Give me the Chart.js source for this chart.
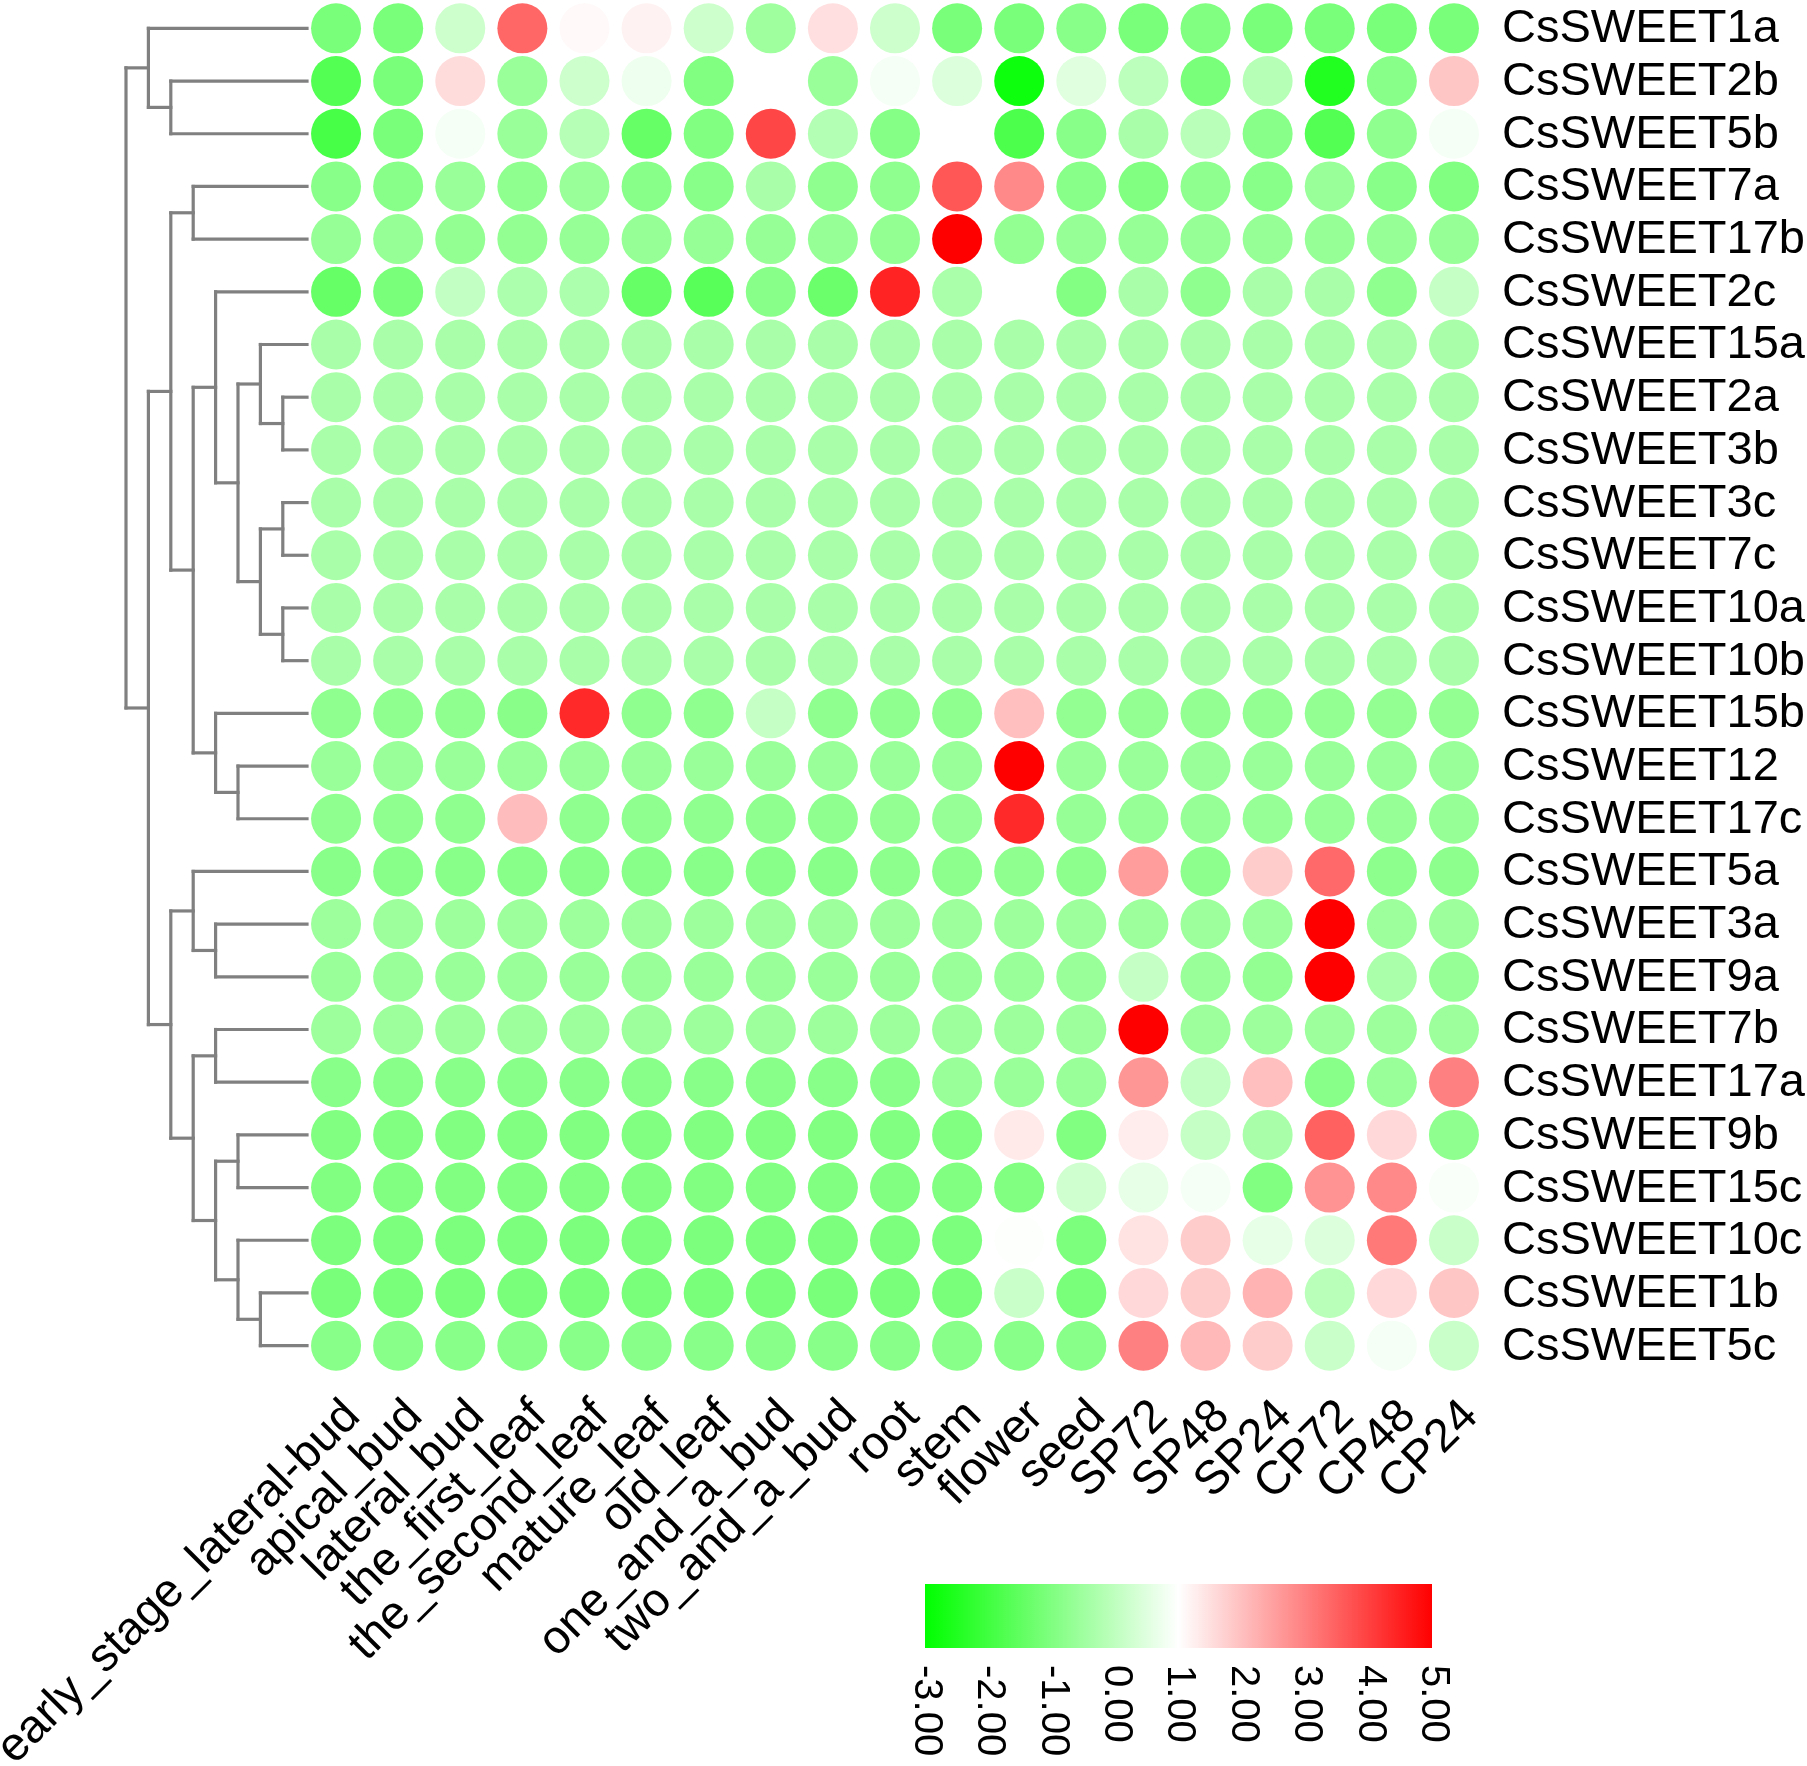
<!DOCTYPE html>
<html>
<head>
<meta charset="utf-8">
<script src="https://cdn.jsdelivr.net/npm/chart.js@4.4.1/dist/chart.umd.min.js"></script>
<style>
  html, body { margin: 0; padding: 0; background: #fff; }
  #heat { display: block; }
</style>
</head>
<body>
<canvas id="heat" width="1807" height="1766"></canvas>
<script>
// columns (tissues / treatments)
const tissues = ['early_stage_lateral-bud', 'apical_bud', 'lateral_bud', 'the_first_leaf', 'the_second_leaf',
    'mature_leaf', 'old_leaf', 'one_and_a_bud', 'two_and_a_bud', 'root', 'stem', 'flower', 'seed',
    'SP72', 'SP48', 'SP24', 'CP72', 'CP48', 'CP24'];

// rows, in dendrogram order
const genes = ['CsSWEET1a', 'CsSWEET2b', 'CsSWEET5b', 'CsSWEET7a', 'CsSWEET17b', 'CsSWEET2c', 'CsSWEET15a',
    'CsSWEET2a', 'CsSWEET3b', 'CsSWEET3c', 'CsSWEET7c', 'CsSWEET10a', 'CsSWEET10b', 'CsSWEET15b', 'CsSWEET12',
    'CsSWEET17c', 'CsSWEET5a', 'CsSWEET3a', 'CsSWEET9a', 'CsSWEET7b', 'CsSWEET17a', 'CsSWEET9b', 'CsSWEET15c',
    'CsSWEET10c', 'CsSWEET1b', 'CsSWEET5c'];

// expression values (log scale), one row per gene, one column per tissue
const expression = [
    [-1.1, -1.1, 0.2, 3.4, 1.1, 1.2, 0.2, -0.5, 1.5, 0.2, -1.1, -1.1, -0.87, -1.1, -1.0, -1.1, -1.1, -1.1, -1.1],
    [-1.7, -1.1, 1.55, -0.6, 0.2, 0.75, -1.0, 1.0, -0.6, 0.85, 0.45, -2.8, 0.5, -0.05, -1.1, -0.15, -2.5, -0.87, 1.9],
    [-1.9, -1.1, 0.85, -0.6, -0.15, -1.4, -1.0, 3.9, -0.2, -0.9, 1.0, -1.8, -0.87, -0.35, -0.1, -0.87, -1.7, -0.75, 0.85],
    [-0.87, -0.87, -0.6, -0.75, -0.6, -0.87, -0.87, -0.35, -0.75, -0.75, 3.65, 2.85, -0.87, -1.0, -0.75, -0.87, -0.6, -0.87, -1.0],
    [-0.65, -0.65, -0.7, -0.7, -0.65, -0.65, -0.65, -0.65, -0.65, -0.7, 5.0, -0.7, -0.65, -0.65, -0.65, -0.65, -0.65, -0.65, -0.65],
    [-1.4, -1.1, 0.05, -0.3, -0.3, -1.4, -1.6, -0.87, -1.3, 4.45, -0.33, 1.0, -0.95, -0.35, -0.75, -0.35, -0.35, -0.75, 0.1],
    [-0.35, -0.35, -0.35, -0.35, -0.35, -0.35, -0.35, -0.35, -0.35, -0.35, -0.35, -0.35, -0.35, -0.35, -0.35, -0.35, -0.35, -0.35, -0.35],
    [-0.35, -0.35, -0.35, -0.35, -0.35, -0.35, -0.35, -0.35, -0.35, -0.35, -0.35, -0.35, -0.35, -0.35, -0.35, -0.35, -0.35, -0.35, -0.35],
    [-0.35, -0.35, -0.35, -0.35, -0.35, -0.35, -0.35, -0.35, -0.35, -0.35, -0.35, -0.35, -0.35, -0.35, -0.35, -0.35, -0.35, -0.35, -0.35],
    [-0.35, -0.35, -0.35, -0.35, -0.35, -0.35, -0.35, -0.35, -0.35, -0.35, -0.35, -0.35, -0.35, -0.35, -0.35, -0.35, -0.35, -0.35, -0.35],
    [-0.35, -0.35, -0.35, -0.35, -0.35, -0.35, -0.35, -0.35, -0.35, -0.35, -0.35, -0.35, -0.35, -0.35, -0.35, -0.35, -0.35, -0.35, -0.35],
    [-0.35, -0.35, -0.35, -0.35, -0.35, -0.35, -0.35, -0.35, -0.35, -0.35, -0.35, -0.35, -0.35, -0.35, -0.35, -0.35, -0.35, -0.35, -0.35],
    [-0.35, -0.35, -0.35, -0.35, -0.35, -0.35, -0.35, -0.35, -0.35, -0.35, -0.35, -0.35, -0.35, -0.35, -0.35, -0.35, -0.35, -0.35, -0.35],
    [-0.75, -0.75, -0.75, -0.85, 4.35, -0.75, -0.75, 0.1, -0.75, -0.75, -0.75, 2.0, -0.7, -0.7, -0.7, -0.7, -0.7, -0.7, -0.7],
    [-0.6, -0.6, -0.6, -0.6, -0.6, -0.6, -0.6, -0.6, -0.6, -0.6, -0.6, 5.0, -0.6, -0.6, -0.6, -0.6, -0.6, -0.6, -0.6],
    [-0.75, -0.75, -0.75, 2.05, -0.75, -0.75, -0.75, -0.75, -0.75, -0.7, -0.65, 4.35, -0.65, -0.65, -0.65, -0.65, -0.65, -0.65, -0.65],
    [-0.87, -0.87, -0.87, -0.87, -0.87, -0.87, -0.87, -0.87, -0.87, -0.8, -0.8, -0.75, -0.8, 2.55, -0.8, 1.8, 3.35, -0.8, -0.8],
    [-0.55, -0.55, -0.55, -0.55, -0.55, -0.55, -0.55, -0.55, -0.55, -0.55, -0.55, -0.55, -0.55, -0.55, -0.55, -0.55, 5.0, -0.55, -0.55],
    [-0.6, -0.6, -0.6, -0.6, -0.6, -0.6, -0.6, -0.6, -0.6, -0.6, -0.6, -0.6, -0.6, 0.1, -0.6, -0.7, 5.0, -0.33, -0.65],
    [-0.55, -0.55, -0.55, -0.55, -0.55, -0.55, -0.55, -0.55, -0.55, -0.55, -0.55, -0.55, -0.55, 5.0, -0.55, -0.55, -0.55, -0.55, -0.55],
    [-0.87, -0.87, -0.87, -0.87, -0.87, -0.87, -0.87, -0.87, -0.87, -0.87, -0.6, -0.6, -0.6, 2.65, 0.05, 2.0, -0.87, -0.6, 3.0],
    [-1.0, -1.0, -1.0, -1.0, -1.0, -1.0, -1.0, -1.0, -1.0, -1.0, -1.0, 1.35, -1.0, 1.3, 0.1, -0.35, 3.5, 1.6, -0.75],
    [-1.0, -1.0, -1.0, -1.0, -1.0, -1.0, -1.0, -1.0, -1.0, -1.0, -1.0, -1.0, 0.25, 0.6, 0.85, -1.0, 2.7, 2.85, 0.9],
    [-1.05, -1.05, -1.05, -1.05, -1.05, -1.05, -1.05, -1.05, -1.05, -1.05, -1.05, 0.97, -1.05, 1.45, 1.8, 0.6, 0.45, 3.1, 0.15],
    [-1.1, -1.1, -1.1, -1.1, -1.1, -1.1, -1.1, -1.1, -1.1, -1.1, -1.1, 0.15, -1.1, 1.6, 1.8, 2.2, -0.1, 1.6, 1.9],
    [-0.87, -0.87, -0.87, -0.87, -0.87, -0.87, -0.87, -0.87, -0.87, -0.87, -0.87, -0.87, -0.87, 3.0, 2.1, 1.8, 0.15, 0.85, 0.15]
];

// colour scale ticks
const scaleTicks = [-3, -2, -1, 0, 1, 2, 3, 4, 5];

// row clustering (nested pairs of gene names)
const dendrogram = [
    ['CsSWEET1a', ['CsSWEET2b', 'CsSWEET5b']],
    [
        [
            ['CsSWEET7a', 'CsSWEET17b'],
            [
                ['CsSWEET2c', [
                    ['CsSWEET15a', ['CsSWEET2a', 'CsSWEET3b']],
                    [['CsSWEET3c', 'CsSWEET7c'], ['CsSWEET10a', 'CsSWEET10b']]
                ]],
                ['CsSWEET15b', ['CsSWEET12', 'CsSWEET17c']]
            ]
        ],
        [
            ['CsSWEET5a', ['CsSWEET3a', 'CsSWEET9a']],
            [
                ['CsSWEET7b', 'CsSWEET17a'],
                [['CsSWEET9b', 'CsSWEET15c'], ['CsSWEET10c', ['CsSWEET1b', 'CsSWEET5c']]]
            ]
        ]
    ]
];

const FONT = '"Liberation Sans", Arial, Helvetica, sans-serif';

// green (-3) -> white (1) -> red (5)
function valueColor(v) {
    if (v <= 1) {
        const t = Math.min(1, (1 - v) / 4);
        const c = Math.round(255 * (1 - t));
        return 'rgb(' + c + ',255,' + c + ')';
    }
    const t = Math.min(1, (v - 1) / 4);
    const c = Math.round(255 * (1 - t));
    return 'rgb(255,' + c + ',' + c + ')';
}

const points = [];
const colors = [];
for (let i = 0; i < genes.length; i++) {
    for (let j = 0; j < tissues.length; j++) {
        points.push({ x: j, y: i });
        colors.push(valueColor(expression[i][j]));
    }
}

// Draws dendrogram, labels and colour key around the dot grid
const decorations = {
    id: 'decorations',
    afterDraw(chart) {
        const ctx = chart.ctx;
        const xs = chart.scales.x;
        const ys = chart.scales.y;
        const area = chart.chartArea;

        // dendrogram
        const x0 = area.left - 179;
        const step = 22.4;
        const leafEnd = area.left + 2;
        ctx.save();
        ctx.strokeStyle = '#808080';
        ctx.lineWidth = 3.2;
        ctx.lineCap = 'square';
        function line(ax, ay, bx, by) {
            ctx.beginPath();
            ctx.moveTo(ax, ay);
            ctx.lineTo(bx, by);
            ctx.stroke();
        }
        function drawNode(node, depth) {
            const x = x0 + depth * step;
            const childY = node.map(child => {
                if (typeof child === 'string') {
                    const y = ys.getPixelForValue(genes.indexOf(child));
                    line(x, y, leafEnd, y);
                    return y;
                }
                const cy = drawNode(child, depth + 1);
                line(x, cy, x0 + (depth + 1) * step, cy);
                return cy;
            });
            line(x, childY[0], x, childY[childY.length - 1]);
            return (childY[0] + childY[childY.length - 1]) / 2;
        }
        drawNode(dendrogram, 0);
        ctx.restore();

        // row labels
        ctx.save();
        ctx.fillStyle = '#000';
        ctx.font = '47px ' + FONT;
        ctx.textAlign = 'left';
        ctx.textBaseline = 'middle';
        genes.forEach((g, i) => {
            ctx.fillText(g, area.right + 17, ys.getPixelForValue(i) + 1);
        });
        ctx.restore();

        // column labels, rotated 45 degrees
        ctx.save();
        ctx.fillStyle = '#000';
        ctx.font = '47px ' + FONT;
        ctx.textAlign = 'right';
        ctx.textBaseline = 'alphabetic';
        tissues.forEach((t, j) => {
            ctx.save();
            ctx.translate(xs.getPixelForValue(j) + 26, area.bottom + 46);
            ctx.rotate(-Math.PI / 4);
            ctx.fillText(t, 0, 0);
            ctx.restore();
        });
        ctx.restore();

        // colour key
        const barL = 925, barR = 1432, barT = 1584, barB = 1648;
        const lo = scaleTicks[0], hi = scaleTicks[scaleTicks.length - 1];
        ctx.save();
        const grad = ctx.createLinearGradient(barL, 0, barR, 0);
        scaleTicks.forEach(v => grad.addColorStop((v - lo) / (hi - lo), valueColor(v)));
        ctx.fillStyle = grad;
        ctx.fillRect(barL, barT, barR - barL, barB - barT);
        ctx.fillStyle = '#000';
        ctx.font = '40px ' + FONT;
        ctx.textAlign = 'left';
        ctx.textBaseline = 'middle';
        scaleTicks.forEach(v => {
            const x = barL + (v - lo) / (hi - lo) * (barR - barL);
            ctx.save();
            ctx.translate(x + 1, barB + 17);
            ctx.rotate(Math.PI / 2);
            ctx.fillText(v.toFixed(2), 0, 0);
            ctx.restore();
        });
        ctx.restore();
    }
};

new Chart(document.getElementById('heat').getContext('2d'), {
    type: 'scatter',
    data: {
        datasets: [{
            data: points,
            pointBackgroundColor: colors,
            pointBorderWidth: 0,
            pointRadius: 25,
            pointHoverRadius: 25
        }]
    },
    options: {
        responsive: false,
        devicePixelRatio: 1,
        animation: false,
        events: [],
        layout: {
            autoPadding: false,
            padding: { left: 305, right: 322, top: 2, bottom: 394 }
        },
        scales: {
            x: { type: 'linear', min: -0.5, max: 18.5, display: false },
            y: { type: 'linear', min: -0.5, max: 25.5, reverse: true, display: false }
        },
        plugins: {
            legend: { display: false },
            tooltip: { enabled: false }
        }
    },
    plugins: [decorations]
});
</script>
</body>
</html>
